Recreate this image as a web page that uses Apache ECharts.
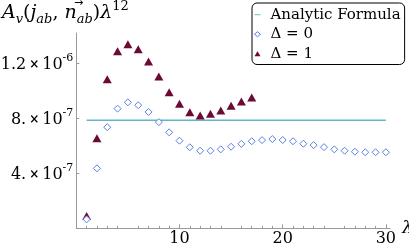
<!DOCTYPE html>
<html><head><meta charset="utf-8">
<script src="https://cdn.jsdelivr.net/npm/echarts@6/dist/echarts.min.js"></script>
<style>html,body{margin:0;padding:0;background:#fff}#c{width:409px;height:245px}</style>
</head><body><div id="c"></div>
<script>
// ---- data ----
const lambdaDelta0 = [1,2,3,4,5,6,7,8,9,10,11,12,13,14,15,16,17,18,19,20,21,22,23,24,25,26,27,28,29,30];
const valuesDelta0 = [0.65e-7,4.36e-7,7.35e-7,8.70e-7,9.16e-7,8.95e-7,8.46e-7,7.72e-7,6.98e-7,6.37e-7,5.89e-7,5.64e-7,5.64e-7,5.74e-7,5.93e-7,6.14e-7,6.33e-7,6.41e-7,6.49e-7,6.42e-7,6.33e-7,6.15e-7,6.05e-7,5.90e-7,5.74e-7,5.64e-7,5.57e-7,5.53e-7,5.53e-7,5.53e-7];
const lambdaDelta1 = [1,2,3,4,5,6,7,8,9,10,11,12,13,14,15,16,17];
const valuesDelta1 = [0.9e-7,6.55e-7,10.84e-7,12.87e-7,13.39e-7,13.02e-7,12.13e-7,11.03e-7,9.9e-7,9.05e-7,8.44e-7,8.2e-7,8.33e-7,8.57e-7,8.91e-7,9.22e-7,9.51e-7];
const lambdaAnalytic = [1, 30];
const valuesAnalytic = [7.85e-7, 7.85e-7];
const seriesNames = ['Analytic Formula', 'Δ = 0', 'Δ = 1'];
const xTickValues = [10, 20, 30];
const yTickValues = [4e-7, 8e-7, 1.2e-6];
const yTickMantissa = ['4.', '8.', '1.2'];
const yTickExponent = ['-7', '-7', '-6'];

const zip = (xs, ys) => xs.map((x, i) => [x, ys[i]]);
const SERIF = '"DejaVu Serif", serif';
const axisGray = '#9a9a9a';
const TEAL = '#62b6c8', BLUE = '#5c80e0', MAROON = '#6a0a35';

const chart = echarts.init(document.getElementById('c'), null, {renderer: 'canvas'});
chart.setOption({
  animation: false,
  backgroundColor: '#fff',
  grid: {left: 76.3, right: 19, top: 33, bottom: 16.7, outerBoundsMode: 'none', containLabel: false},
  title: {
    left: 2, top: 0, padding: 0,
    text: '{i|A}{sub|v}{n|(}{i|j}{sub|ab}{n|, }{i|n}{sub|ab}{n|)}{i|λ}{sup|12}',
    textStyle: {
      fontWeight: 'normal',
      rich: {
        i: {fontFamily: SERIF, fontStyle: 'italic', fontWeight: 'normal', fontSize: 19, color: '#000', lineHeight: 26},
        n: {fontFamily: SERIF, fontWeight: 'normal', fontSize: 19, color: '#000', lineHeight: 26},
        sub: {fontFamily: SERIF, fontStyle: 'italic', fontWeight: 'normal', fontSize: 13, color: '#000', lineHeight: 9, verticalAlign: 'bottom'},
        sup: {fontFamily: SERIF, fontWeight: 'normal', fontSize: 13, color: '#000', lineHeight: 9, verticalAlign: 'top'}
      }
    }
  },
  graphic: [{
    type: 'text', left: 74, top: -2, silent: true,
    style: {text: '→', fontFamily: '"DejaVu Sans", sans-serif', fontSize: 11, fill: '#000'}
  }],
  legend: {
    orient: 'vertical', left: 252, top: 3,
    padding: [2, 4, 1, 2], itemGap: 0, itemWidth: 6, itemHeight: 5,
    borderColor: '#000', borderWidth: 1, borderRadius: 5, backgroundColor: '#fff',
    data: [
      {name: seriesNames[0], icon: 'path://M0,0L8,0L8,1.2L0,1.2Z', itemStyle: {color: TEAL}},
      {name: seriesNames[1], icon: 'diamond', itemStyle: {color: '#fff', borderColor: BLUE, borderWidth: 1}},
      {name: seriesNames[2], icon: 'triangle', itemStyle: {color: MAROON}}
    ],
    textStyle: {fontFamily: SERIF, fontSize: 15, color: '#000', lineHeight: 19.5, padding: [0, 0, 0, 5]}
  },
  xAxis: {
    type: 'value', min: 0, max: 30.4,
    name: 'λ', nameLocation: 'end', nameGap: 4,
    nameTextStyle: {fontFamily: SERIF, fontStyle: 'italic', fontSize: 17, color: '#000', verticalAlign: 'middle'},
    axisLine: {show: true, onZero: false, lineStyle: {color: axisGray, width: 1}},
    axisTick: {show: true, inside: true, length: 4, customValues: xTickValues, lineStyle: {color: axisGray}},
    minorTick: {show: true, splitNumber: 5, length: 2.5, lineStyle: {color: axisGray}},
    axisLabel: {customValues: xTickValues, margin: 3, fontFamily: SERIF, fontSize: 16, color: '#000'},
    splitLine: {show: false}
  },
  yAxis: {
    type: 'value', min: 0, max: 1.42e-6,
    axisLine: {show: true, onZero: false, lineStyle: {color: axisGray, width: 1}},
    axisTick: {show: true, inside: true, length: 3, customValues: yTickValues, lineStyle: {color: axisGray}},
    axisLabel: {
      customValues: yTickValues, margin: 3,
      formatter: function (v) {
        const k = yTickValues.findIndex(t => Math.abs(t - v) < 1e-12);
        if (k < 0) return '';
        return '{m|' + yTickMantissa[k] + '}{x|×}{m|10}{s|' + yTickExponent[k] + '}';
      },
      rich: {
        m: {fontFamily: SERIF, fontSize: 16, color: '#000', lineHeight: 22, padding: [3, 0, 0, 0]},
        x: {fontFamily: SERIF, fontSize: 12, fontWeight: 'bold', color: '#000', lineHeight: 22, padding: [3, 3, 0, 3]},
        s: {fontFamily: SERIF, fontSize: 11, color: '#000', lineHeight: 8, verticalAlign: 'top'}
      }
    },
    splitLine: {show: false}
  },
  series: [
    {
      name: seriesNames[0], type: 'line', data: zip(lambdaAnalytic, valuesAnalytic),
      showSymbol: false, symbol: 'none', z: 1,
      lineStyle: {color: TEAL, width: 1.5}, itemStyle: {color: TEAL}
    },
    {
      name: seriesNames[2], type: 'scatter', data: zip(lambdaDelta1, valuesDelta1),
      symbol: 'triangle', symbolSize: [9, 8], z: 2,
      itemStyle: {color: MAROON, opacity: 1}
    },
    {
      name: seriesNames[1], type: 'scatter', data: zip(lambdaDelta0, valuesDelta0),
      symbol: 'diamond', symbolSize: 7, z: 3,
      itemStyle: {color: '#fff', borderColor: BLUE, borderWidth: 1, opacity: 1}
    }
  ]
});
</script></body></html>
